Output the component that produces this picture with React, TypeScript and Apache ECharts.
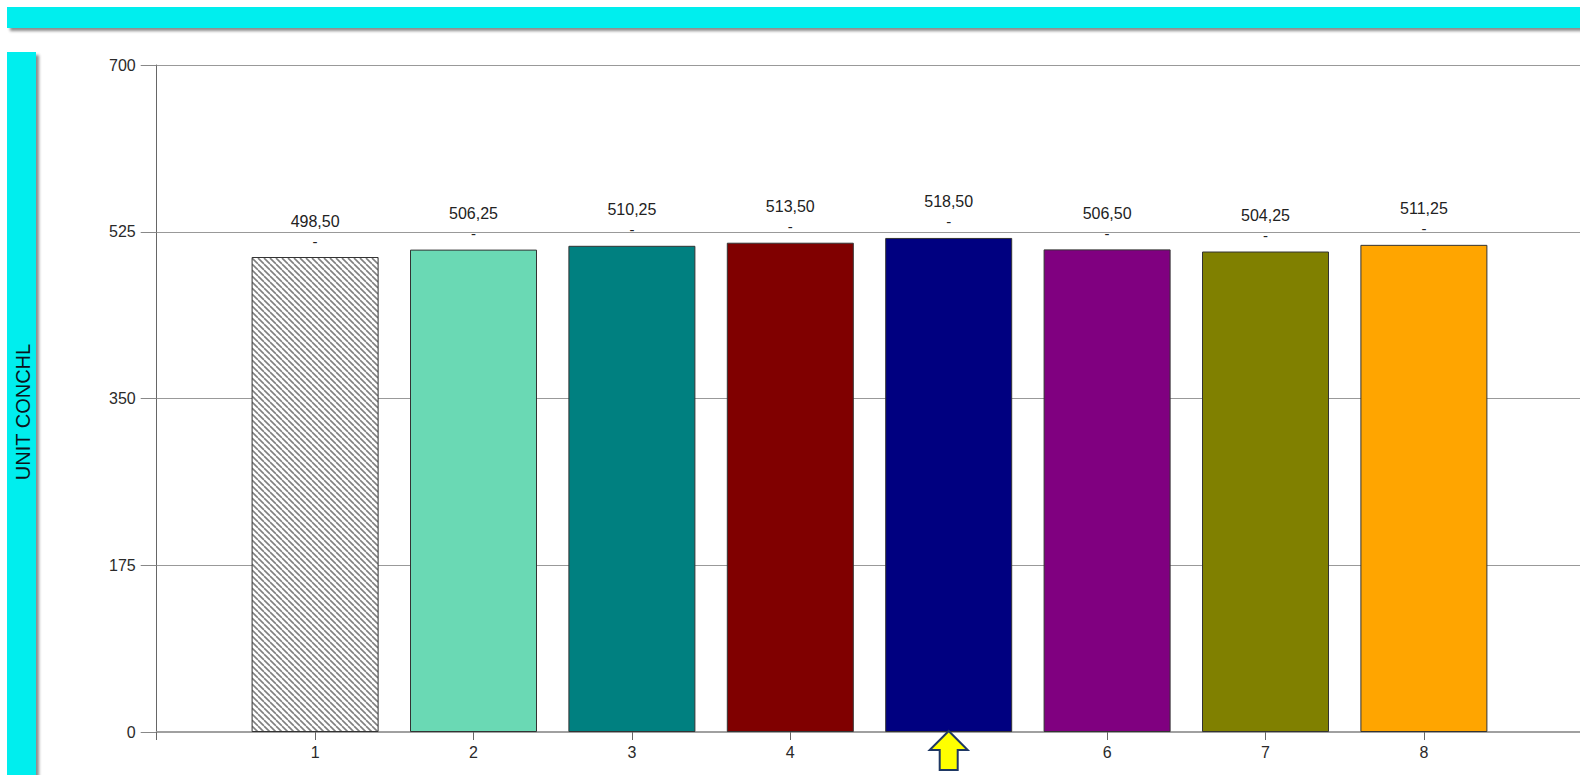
import React, { useEffect, useRef } from 'react';
import * as echarts from 'echarts';

const categories = ['1', '2', '3', '4', '5', '6', '7', '8'];
const values = [498.5, 506.25, 510.25, 513.5, 518.5, 506.5, 504.25, 511.25];
const barColors = ['hatch', '#6AD9B4', '#008080', '#800000', '#000080', '#800080', '#808000', '#FFA500'];
const yMin = 0;
const yMax = 700;
const yStep = 175;
const highlighted = '5';
const yAxisTitle = 'UNIT CONCHL';

const FONT = '"Liberation Sans", Arial, sans-serif';

function makeHatch(): HTMLCanvasElement {
  const s = 6;
  const c = document.createElement('canvas');
  c.width = s;
  c.height = s;
  const ctx = c.getContext('2d')!;
  ctx.fillStyle = '#ffffff';
  ctx.fillRect(0, 0, s, s);
  ctx.strokeStyle = '#808080';
  ctx.lineWidth = 1.6;
  for (const x0 of [-s, 0, s]) {
    ctx.beginPath();
    ctx.moveTo(x0, 0);
    ctx.lineTo(x0 + s, s);
    ctx.stroke();
  }
  return c;
}

const fmt = (v: number) => v.toFixed(2).replace('.', ',');

export default function App() {
  const ref = useRef<HTMLDivElement>(null);
  useEffect(() => {
    if (!ref.current) return;
    const chart = echarts.init(ref.current, undefined, { renderer: 'svg' });
    const hatch = makeHatch();
    const data = categories.map((c, i) => ({
      value: [Number(c), values[i]],
      itemStyle: {
        color: barColors[i] === 'hatch' ? { image: hatch, repeat: 'repeat' } : barColors[i],
        borderColor: '#333333',
        borderWidth: 1,
      },
    }));
    const bandShadow = {
      shadowColor: 'rgba(0,0,0,0.45)',
      shadowOffsetX: 3,
      shadowOffsetY: 3,
      shadowBlur: 3,
    };
    chart.setOption({
      animation: false,
      grid: { left: 156.7, top: 65, bottom: 43, right: 17.7, containLabel: false },
      xAxis: {
        type: 'value',
        min: 0,
        max: 9,
        interval: 1,
        splitLine: { show: false },
        axisLine: { show: true, lineStyle: { color: '#a0a0a0', width: 2 } },
        axisTick: { show: true, length: 8, lineStyle: { color: '#666666', width: 1 } },
        axisLabel: {
          margin: 12,
          fontFamily: FONT,
          fontSize: 16,
          color: '#2a2a2a',
          formatter: (v: number) => {
            const s = String(v);
            return categories.includes(s) && s !== highlighted ? s : '';
          },
        },
      },
      yAxis: {
        type: 'value',
        min: yMin,
        max: yMax,
        interval: yStep,
        axisLine: { show: true, lineStyle: { color: '#666666', width: 1 } },
        axisTick: { show: true, length: 16, lineStyle: { color: '#888888', width: 1 } },
        splitLine: { show: true, lineStyle: { color: '#999999', width: 1 } },
        axisLabel: { margin: 21, fontFamily: FONT, fontSize: 16, color: '#2a2a2a' },
      },
      series: [
        {
          type: 'bar',
          barWidth: 127,
          data,
          label: {
            show: true,
            position: 'top',
            distance: 6,
            formatter: (p: any) => `{v|${fmt(p.value[1])}}\n{d|-}`,
            rich: {
              v: { fontFamily: FONT, fontSize: 16, color: '#222222', lineHeight: 20 },
              d: { fontFamily: FONT, fontSize: 15, color: '#222222', lineHeight: 20 },
            },
          },
        },
      ],
      graphic: [
        { id: 'topband', type: 'rect', shape: { x: 7, y: 7, width: 1620, height: 21 }, style: { fill: '#00EEEE', ...bandShadow }, z: 10 },
        { id: 'leftband', type: 'rect', shape: { x: 7, y: 52, width: 29, height: 800 }, style: { fill: '#00EEEE', ...bandShadow }, z: 10 },
        {
          id: 'ytitle',
          type: 'text',
          x: 23,
          y: 412,
          rotation: Math.PI / 2,
          style: { text: yAxisTitle, font: `20px ${FONT}`, fill: '#0a1420', align: 'center', verticalAlign: 'middle' },
          z: 11,
        },
      ],
    });
    const p = chart.convertToPixel({ xAxisIndex: 0, yAxisIndex: 0 }, [Number(highlighted), 0]) as number[];
    chart.setOption({
      graphic: [
        {
          id: 'arrow',
          type: 'polygon',
          x: p[0],
          y: p[1] - 1,
          shape: { points: [[0, 0], [-19, 19], [-9, 19], [-9, 39], [9, 39], [9, 19], [19, 19]] },
          style: { fill: '#FFFF00', stroke: '#1F3864', lineWidth: 2 },
          z: 20,
        },
      ],
    });
    return () => chart.dispose();
  }, []);
  return (
    <div style={{ position: 'absolute', left: 0, top: 0, width: 1580, height: 775, overflow: 'hidden', background: '#fff' }}>
      <div ref={ref} style={{ width: 1600, height: 775 }} />
    </div>
  );
}
